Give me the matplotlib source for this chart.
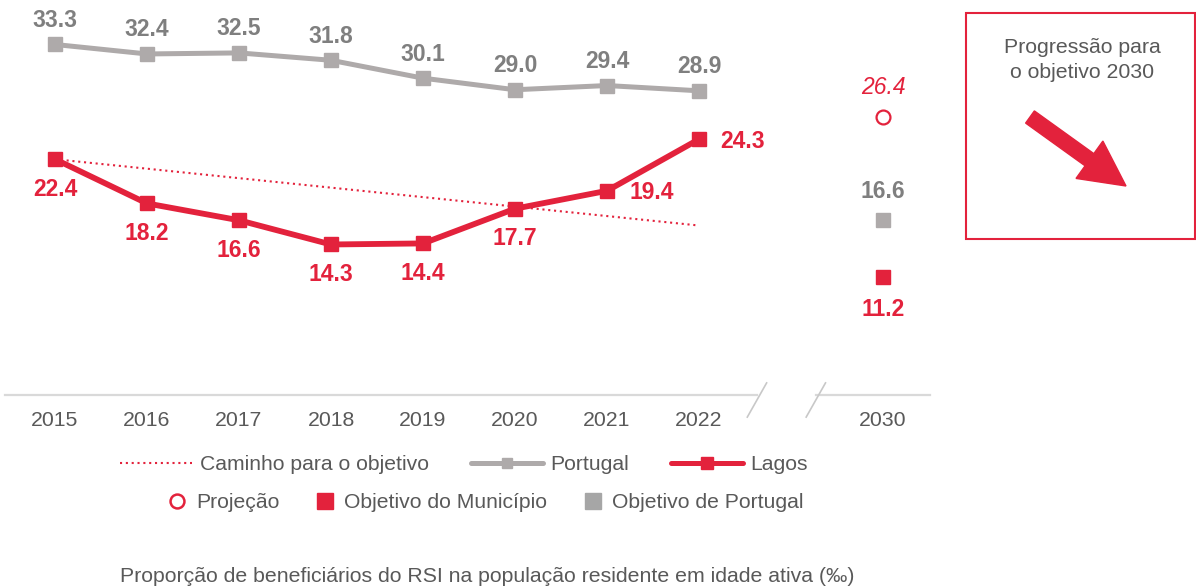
import matplotlib
matplotlib.use('Agg')
import matplotlib.pyplot as plt
from matplotlib.lines import Line2D
from matplotlib.patches import Rectangle, FancyArrow
import matplotlib.transforms as mtransforms

plt.rcParams['font.family'] = ['Liberation Sans', 'DejaVu Sans']

# ---------------- data ----------------
years = ['2015', '2016', '2017', '2018', '2019', '2020', '2021', '2022']
portugal = [33.3, 32.4, 32.5, 31.8, 30.1, 29.0, 29.4, 28.9]
lagos = [22.4, 18.2, 16.6, 14.3, 14.4, 17.7, 19.4, 24.3]
path_years = ['2015', '2022']
path_values = [22.4, 16.1]
target_year = '2030'
projection_2030 = 26.4
objective_municipio = 11.2
objective_portugal = 16.6
tick_labels = years + [target_year]
legend_row1 = ['Caminho para o objetivo', 'Portugal', 'Lagos']
legend_row2 = ['Projeção', 'Objetivo do Município', 'Objetivo de Portugal']
box_text = 'Progressão para\no objetivo 2030'
caption = 'Proporção de beneficiários do RSI na população residente em idade ativa (‰)'

# ---------------- style ----------------
RED = '#E3223C'
GRAY = '#AEAAAA'
GRAY_SQ = '#A6A6A6'
GRAY_TXT = '#7F7F7F'
TXT = '#595959'
AXLINE = '#D9D9D9'

W, H = 1196, 586
fig = plt.figure(figsize=(W / 100, H / 100), dpi=100)
ax = fig.add_axes([5 / W, 1 - 395 / H, 925 / W, 395 / H])

pos = {y: i for i, y in enumerate(years)}
pos[target_year] = len(years) + 1
xs = [pos[y] for y in years]
x30 = pos[target_year]

ax.set_xlim((5 - 55) / 92, (930 - 55) / 92)
ax.set_ylim(0, 395 / 10.526)
for s in ax.spines.values():
    s.set_visible(False)
ax.set_yticks([])
ax.set_xticks(xs + [x30])
ax.set_xticklabels(tick_labels)
ax.tick_params(axis='x', length=0, pad=11.5, labelsize=15.3, colors=TXT)

# broken axis line
xmin, xmax = ax.get_xlim()
b1, b2 = 7.63, 8.27
ax.plot([xmin, b1], [0, 0], color=AXLINE, lw=1.6, clip_on=False, zorder=1)
ax.plot([b2, xmax], [0, 0], color=AXLINE, lw=1.6, clip_on=False, zorder=1)
for b in (b1, b2):
    ax.plot([b - 0.105, b + 0.105], [-2.1, 1.15], color='#C8C8C8', lw=1.2,
            clip_on=False, zorder=1)

# lines
ax.plot([pos[y] for y in path_years], path_values, color=RED, lw=1.5,
        ls=(0, (1, 1.8)), zorder=2, clip_on=False)
ax.plot(xs, portugal, color=GRAY, lw=3.6, marker='s', ms=9.5, zorder=3,
        clip_on=False)
ax.plot(xs, lagos, color=RED, lw=4.2, marker='s', ms=10, zorder=4,
        clip_on=False)

# 2030 points
ax.plot([x30], [projection_2030], ls='none', marker='o', ms=10, mfc='white',
        mec=RED, mew=1.6, zorder=4, clip_on=False)
ax.plot([x30], [objective_portugal], ls='none', marker='s', ms=10,
        color=GRAY, zorder=4, clip_on=False)
ax.plot([x30], [objective_municipio], ls='none', marker='s', ms=10,
        color=RED, zorder=4, clip_on=False)


def lab(x, y, txt, dx, dy, color, **kw):
    ax.annotate(txt, (x, y), xytext=(dx, dy), textcoords='offset pixels',
                ha='center', va='center', color=color, fontsize=16.5,
                annotation_clip=False, **kw)


for x, v in zip(xs, portugal):
    lab(x, v, f'{v:.1f}', 0, 24, GRAY_TXT, fontweight='bold')
for i, (x, v) in enumerate(zip(xs, lagos)):
    if i == 6:
        lab(x, v, f'{v:.1f}', 45, -2, RED, fontweight='bold')
    elif i == 7:
        lab(x, v, f'{v:.1f}', 44, -2, RED, fontweight='bold')
    else:
        lab(x, v, f'{v:.1f}', 0, -30, RED, fontweight='bold')

lab(x30, projection_2030, f'{projection_2030:.1f}', 0, 30, RED, fontstyle='italic')
lab(x30, objective_portugal, f'{objective_portugal:.1f}', 0, 29, GRAY_TXT, fontweight='bold')
lab(x30, objective_municipio, f'{objective_municipio:.1f}', 0, -32, RED, fontweight='bold')

# right box with arrow
fig.add_artist(Rectangle((966 / W, 1 - 239 / H), 229 / W, 226 / H,
                         transform=fig.transFigure, fill=False, ec=RED, lw=1.5))
fig.text(1082 / W, 1 - 60 / H, box_text, ha='center', va='center',
         fontsize=15.3, color=TXT, linespacing=1.36)
pix = mtransforms.Affine2D().scale(1 / 100) + fig.dpi_scale_trans
fig.add_artist(FancyArrow(1030, H - 117, 96, -69, width=15, head_width=46,
                          head_length=45, length_includes_head=True,
                          color=RED, transform=pix))

# legends
h1 = [Line2D([], [], color=RED, lw=1.5, ls=(0, (1, 1.8))),
      Line2D([], [], color=GRAY, lw=3.6, marker='s', ms=7,
             solid_capstyle='round'),
      Line2D([], [], color=RED, lw=3.6, marker='s', ms=8,
             solid_capstyle='round')]
leg1 = fig.legend(h1, legend_row1, loc='center', bbox_to_anchor=(464 / W, 1 - 465 / H),
                  ncol=3, frameon=False, fontsize=15.2, handlelength=3.4,
                  handletextpad=0.35, columnspacing=2.0, labelcolor=TXT,
                  borderpad=0, borderaxespad=0)
h2 = [Line2D([], [], ls='none', marker='o', ms=10, mfc='white', mec=RED, mew=1.8),
      Line2D([], [], ls='none', marker='s', ms=11, color=RED),
      Line2D([], [], ls='none', marker='s', ms=11, color=GRAY_SQ)]
leg2 = fig.legend(h2, legend_row2, loc='center', bbox_to_anchor=(486 / W, 1 - 503 / H),
                  ncol=3, frameon=False, fontsize=15.2, handlelength=0.8,
                  handletextpad=0.5, columnspacing=1.75, labelcolor=TXT,
                  borderpad=0, borderaxespad=0)

fig.text(487 / W, 1 - 577 / H, caption, ha='center', va='center',
         fontsize=15.3, color=TXT)

fig.savefig('out.png', dpi=100)
